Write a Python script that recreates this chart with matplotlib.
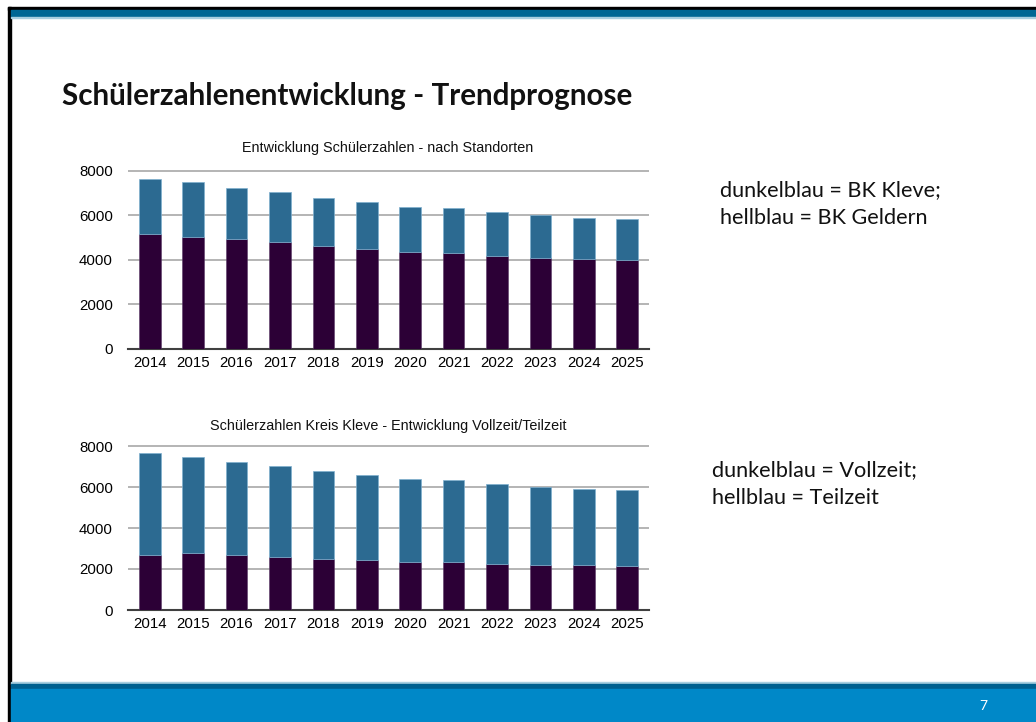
import numpy as np
import matplotlib
matplotlib.use('Agg')
import matplotlib.pyplot as plt
from matplotlib.patches import Rectangle

# Data
years = ['2014', '2015', '2016', '2017', '2018', '2019',
         '2020', '2021', '2022', '2023', '2024', '2025']
kleve = [5170, 5050, 4940, 4810, 4630, 4490, 4370, 4330, 4180, 4100, 4060, 4000]
geldern_total = [7660, 7490, 7250, 7040, 6790, 6590, 6380, 6350, 6160, 6010, 5890, 5830]
vollzeit = [2670, 2800, 2670, 2590, 2500, 2420, 2360, 2360, 2260, 2210, 2180, 2160]
gesamt = [7640, 7450, 7240, 7040, 6760, 6570, 6390, 6330, 6150, 6020, 5890, 5840]
yticks = [0, 2000, 4000, 6000, 8000]

geldern = [t - k for t, k in zip(geldern_total, kleve)]
teilzeit = [t - v for t, v in zip(gesamt, vollzeit)]

W, H = 1036, 722
dark = '#2c0036'
light = '#2c6a91'

fig = plt.figure(figsize=(W / 100, H / 100), dpi=100)
fig.patch.set_facecolor('white')


def rect(x0, y0, x1, y1, color):
    # pixel coords (top-left origin) -> figure rectangle
    fig.patches.append(Rectangle((x0 / W, 1 - y1 / H), (x1 - x0) / W, (y1 - y0) / H,
                                 transform=fig.transFigure, color=color, zorder=0))


# slide frame and banners
rect(8, 7, W, 10, '#000000')
rect(8, 7, 11, H, '#000000')
rect(11, 10, W, 17, '#006794')
rect(11, 17, W, 18, '#a9cfe0')
rect(11, 682, W, 684, '#a9cfe0')
rect(11, 684, W, 689, '#00608f')
rect(11, 689, W, H, '#0088c8')

fig.text(983 / W, 1 - 706 / H, '7', color='white', fontsize=10, family='Lato',
         ha='center', va='center')

fig.text(62 / W, 1 - 96 / H, 'Schülerzahlenentwicklung - Trendprognose',
         fontsize=21.3, fontweight='bold', family='Lato', ha='left', va='center',
         color='#111111')


def bar_chart(top_px, bottom_px, lower, upper, title, title_y):
    ymax = 8100
    h = (bottom_px - top_px) * ymax / 8000
    ax = fig.add_axes([128 / W, 1 - bottom_px / H, (649 - 128) / W, h / H])
    x = np.arange(len(years))
    ax.bar(x, lower, width=0.5, color=dark, edgecolor='#5a3a66', linewidth=0.4, zorder=3)
    ax.bar(x, upper, width=0.5, bottom=lower, color=light, edgecolor='#7fb0cf',
           linewidth=0.5, zorder=3)
    ax.set_xlim(-0.5, 11.5)
    ax.set_ylim(0, ymax)
    ax.set_yticks(yticks)
    ax.set_xticks(x)
    ax.set_xticklabels(years)
    ax.grid(axis='y', color='#b4b4b4', linewidth=1.4, zorder=0)
    for s in ['top', 'right', 'left']:
        ax.spines[s].set_visible(False)
    ax.spines['bottom'].set_color('#404040')
    ax.spines['bottom'].set_linewidth(1.5)
    ax.tick_params(length=0, labelsize=10.8)
    for lab in ax.get_xticklabels() + ax.get_yticklabels():
        lab.set_family('Liberation Sans')
    ax.tick_params(axis='y', pad=11)
    ax.tick_params(axis='x', pad=5)
    fig.text(388 / W, 1 - title_y / H, title, fontsize=10.4,
             family='Liberation Sans', ha='center', va='center', color='#111111')
    return ax


bar_chart(171, 349, kleve, geldern, 'Entwicklung Schülerzahlen - nach Standorten', 148)
bar_chart(446, 610, vollzeit, teilzeit,
          'Schülerzahlen Kreis Kleve - Entwicklung Vollzeit/Teilzeit', 426)

fig.text(720 / W, 1 - 190 / H, 'dunkelblau = BK Kleve;', fontsize=15.6,
         family='Lato', ha='left', va='center', color='#111111')
fig.text(720 / W, 1 - 218 / H, 'hellblau = BK Geldern', fontsize=15.6,
         family='Lato', ha='left', va='center', color='#111111')
fig.text(712 / W, 1 - 470 / H, 'dunkelblau = Vollzeit;', fontsize=15.6,
         family='Lato', ha='left', va='center', color='#111111')
fig.text(712 / W, 1 - 498 / H, 'hellblau = Teilzeit', fontsize=15.6,
         family='Lato', ha='left', va='center', color='#111111')

fig.savefig('out.png', dpi=100)
